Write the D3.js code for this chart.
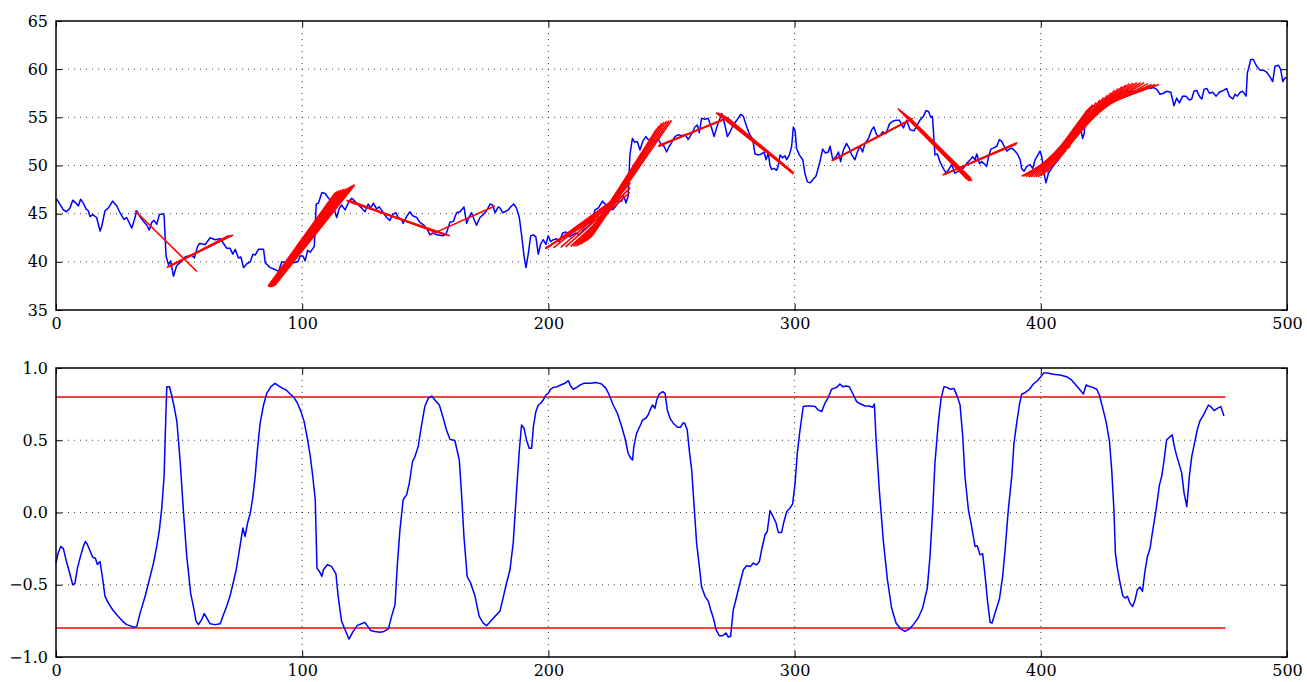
<!DOCTYPE html>
<html>
<head>
<meta charset="utf-8">
<script src="https://d3js.org/d3.v7.min.js"></script>
<style>
  body { margin: 0; background: #fff; }
  svg text { font-family: "DejaVu Serif", serif; font-size: 16px; fill: #000; }
</style>
</head>
<body>
<div id="chart"></div>
<script>

// price series (index, value)
var priceSeries = [
  [0,46.4],[0.3,46.5],[3,45.4],[4.3,45.2],[5.7,45.6],[6.8,46.4],[8.1,46.1],[9.1,45.8],[10,46.5],[11.1,46.1],[12.2,45.5],[13.1,45.3],[13.8,44.7],[14.9,44.9],[16.5,44.6],[17.9,43.2],[18.6,43.7],[19.9,45.3],[21.3,45.6],[23,46.3],[24.7,45.8],[26,45.1],[27.6,44.4],[28.7,44.6],[30.8,43.5],[32.1,44.6],[32.8,45.3],[34.1,44.7],[35.5,44.2],[36.9,43.8],[37.9,43.3],[38.9,44.1],[39.8,44.3],[40.9,43.9],[42,44.9],[43.4,45.0],[43.9,44.8],[44.7,40.6],[45.7,39.7],[46.6,40.1],[47.7,38.5],[49,39.6],[51.1,40.1],[52.4,40.5],[53.8,40.6],[55.1,40.7],[56.2,40.4],[57.5,41.6],[58.3,41.9],[60.6,41.8],[62.6,42.5],[64.6,42.3],[66.7,42.4],[68.3,41.8],[69.4,41.4],[70.7,41.4],[71.8,40.8],[72.8,41.3],[74.1,40.4],[75.1,40.5],[76.2,39.4],[77.5,39.8],[78.9,40.0],[80,40.8],[80.9,40.7],[82.2,41.3],[84.3,41.3],[85,39.9],[87,39.4],[89,39.2],[90.4,39.0],[91.7,40.0],[93.8,39.9],[95.1,40.1],[96.5,39.9],[98.2,40.0],[99.2,40.6],[100.3,40.6],[101.2,40.1],[102.2,41.2],[103.3,41.0],[104.9,41.6],[105.7,46.0],[106.6,46.1],[108,47.2],[109.3,47.1],
  [111.3,46.4],[112.6,45.8],[114,44.6],[115,45.5],[116,45.9],[117.4,45.4],[118.7,46.1],[120.1,46.6],[121.4,46.3],[122.8,45.9],[124.1,45.6],[125.5,45.2],[126.8,46.0],[127.8,45.6],[128.9,46.1],[130.2,45.5],[131.3,45.7],[132.7,45.2],[134.3,44.6],[135.6,44.3],[136.7,44.9],[138.1,45.1],[139,44.6],[140.4,44.4],[141,44.0],[142.4,44.7],[143.8,45.2],[144.8,44.8],[146.5,44.6],[147.8,44.1],[149.4,43.8],[150.8,43.4],[151.9,42.8],[153,43.0],[154.6,42.8],[157.3,42.7],[158.6,43.0],[160,44.1],[161.4,44.2],[162.7,45.1],[164.1,45.2],[165.7,45.7],[166.8,44.0],[167.9,44.7],[168.8,45.1],[169.8,44.4],[170.8,43.8],[172.2,44.6],[173.5,44.9],[174.9,45.3],[176.3,46.0],[177.3,45.9],[178.4,45.1],[179.6,45.7],[180.3,45.6],[181.4,45.1],[182.3,45.2],[183.7,45.4],[185,45.8],[185.9,46.0],[187,45.6],[188.2,44.6],[189.1,42.8],[190.1,40.6],[190.9,39.4],[191.8,40.8],[192.8,42.7],[193.9,42.8],[194.9,42.6],[195.9,40.8],[196.8,41.8],[197.9,42.3],[199,41.8],[199.9,42.7],[200.9,42.1],[202,42.3],[203.3,42.4],[204.4,42.1],[205.8,43.0],[207.1,43.1],[208.5,42.6],[209.8,42.8],[211.2,43.0],[212.5,42.8],[214.2,43.3],[216.2,43.7],[217.5,44.0],[218.9,45.4],[220.3,45.6],[222,46.3],[223.4,45.9],[224.7,45.6],[226.1,45.4],[227.4,45.8],[228.8,46.3],[229.7,46.3],[230.7,46.8],[231.5,46.1],[232.4,46.8],[233.1,51.1],[234.1,52.8],[235.1,52.4],[236.1,52.5],[237.2,51.6],[238.3,52.5],[239.6,53.0],[240.5,52.7],
  [241.3,52.7],[243.3,52.5],[244.6,52.7],[246,52.1],[247,52.0],[248,51.4],[249.1,52.0],[250.1,52.4],[250.7,52.7],[251.4,53.0],[252.8,53.2],[254.1,53.1],[255.5,53.2],[256.8,52.7],[258.2,53.3],[259.5,54.0],[260.5,54.2],[261.3,53.4],[262.2,54.9],[263.6,54.8],[264.9,54.9],[266.3,53.9],[267.3,53.0],[268.3,53.9],[269.4,54.7],[270.4,55.4],[271.7,54.2],[272.7,53.0],[273.8,53.5],[275.1,54.2],[276.5,54.7],[278.1,55.3],[279.2,55.1],[280.3,54.2],[281.6,53.3],[283,52.7],[283.9,51.2],[285.3,51.1],[286.6,51.2],[287.6,51.4],[288.4,50.6],[289.3,51.3],[290,50.0],[290.7,49.6],[291.6,49.7],[292.7,49.5],[293.4,50.0],[294.1,51.1],[295.1,50.8],[296.1,51.0],[296.8,50.6],[297.9,51.1],[298.8,52.0],[299.5,54.0],[300.2,53.6],[300.8,51.8],[301.9,51.1],[303.3,50.6],[304.2,49.2],[305.2,48.3],[306.3,48.2],[307.3,48.5],[308.7,48.9],[310.1,50.2],[311.4,51.7],[312.5,51.3],[313.7,51.4],[314.4,52.0],[315.5,50.6],[316.8,50.9],[317.8,51.4],[318.7,50.4],[319.8,51.6],[321.1,52.3],[322.2,51.8],[323.2,51.1],[324.5,50.6],[325.5,51.4],[326.6,52.0],[327.6,51.4],[328.6,52.3],[330,52.8],[331.3,53.7],[332.2,54.0],[333.3,53.2],[334.4,53.0],[335.8,53.5],[337.1,53.3],[338.5,54.3],[339.8,54.6],[341.2,54.7],[342.5,54.7],[344.2,53.9],[345.5,54.7],[346.9,53.7],[348.5,53.6],[349.8,54.2],[350.9,54.7],[352.3,55.1],[353.4,55.7],[354.4,55.6],[355.3,55.0],[356,55.1],[357,51.1],[358,51.2],[359,50.4],[360.4,49.7],[361.5,49.2],[362.4,49.5],[363.8,50.1],[365.1,49.2],[366.5,49.4],
  [367.8,49.8],[368.5,49.7],[369.9,50.2],[371.3,50.6],[372.3,50.9],[373.3,50.6],[374,51.2],[375.1,50.2],[376,50.4],[376.9,50.2],[378,49.9],[378.7,50.8],[379.7,51.7],[380.7,51.8],[382.1,52.0],[383.2,52.7],[384.1,52.5],[385.1,52.0],[386.2,51.5],[387.2,51.7],[388.2,51.8],[389.5,51.5],[390.5,51.2],[391.6,50.6],[392.2,49.7],[393.2,49.4],[394.3,49.9],[395.6,50.1],[396.7,49.7],[397.7,50.6],[398.6,51.0],[399.7,51.5],[400.4,50.9],[401.3,49.2],[402.1,48.2],[403.1,49.2],[404.4,49.7],[405.8,50.2],[407.1,50.6],[408.5,51.1],[409.4,51.3],[410.5,52.0],[411.9,52.8],[413.2,53.3],[414.6,53.9],[415.9,54.2],[417,52.8],[417.6,53.3],[418.4,55.4],[419.7,55.7],[421.1,56.2],[422.4,56.1],[423.8,56.2],[425.2,56.3],[426.5,56.8],[427.5,56.5],[428.8,57.0],[430.2,57.2],[431.9,57.5],[433.5,57.6],[434.9,57.8],[436.3,57.6],[437.6,57.7],[438.9,57.6],[440.3,57.9],[441.7,58.0],[443,58.1],[444.4,58.0],[445.7,58.1],[447.1,57.9],[448.4,57.4],[449.8,57.5],[451.1,57.7],[452.8,57.6],[454.1,56.2],[455.2,57.0],[456.3,56.5],[457.6,57.2],[459,57.2],[460.3,56.8],[461.3,56.9],[462.2,57.7],[463.3,57.8],[464.4,57.2],[465.4,56.9],[466.3,57.9],[467.4,58.0],[468.5,57.5],[469.8,57.6],[471.2,57.2],[472.5,57.6],[474.2,57.8],[475.5,58.0],[476.6,57.2],[478,56.9],[478.9,57.4],[479.8,57.2],[481,57.6],[482,57.7],[483.4,57.2],[483.9,59.6],[485.3,61.0],[486.3,61.0],[487.7,60.3],[489,59.9],[490.4,59.9],[491.7,59.7],[493.1,59.2],[494.2,58.7],[495.1,60.3],[496.5,60.4],[497.4,60.0],[498.3,58.7],[499.2,59.1],[499.9,59.1]
];

// fitted trend lines: [x0, y0, x1, y1]
var trendSegments = [
  [32.1,45.3,57.2,39.0],
  [45,39.4,72,42.8],[45.2,39.45,71.5,42.75],[45.5,39.5,71,42.7],[45.7,39.5,70.5,42.7],[46,39.5,70,42.7],
  [86.2,37.5,113.5,47.2],[86.4,37.4,114.2,47.3],[86.6,37.4,115,47.4],[86.8,37.4,115.8,47.45],[87,37.4,116.5,47.5],[87.3,37.4,117.2,47.55],[87.5,37.4,118,47.6],[87.8,37.45,118.8,47.7],[88,37.5,119.5,47.8],[88.3,37.5,120.2,47.9],[88.5,37.5,121,48.0],[89,37.6,121.4,48.0],
  [118,46.4,160,42.7],[118.3,46.35,159,42.75],[118.5,46.3,158,42.8],[119,46.4,155,43.0],
  [151.9,42.8,178.3,45.8],
  [198.6,41.4,219,44.4],[198.7,41.4,220.5,44.8],[198.8,41.4,222,45.2],[199,41.4,223.5,45.7],[199.2,41.4,225,46.2],[202,41.45,226.5,46.4],[205,41.5,228,46.6],[207,41.55,230.5,46.9],[209,41.6,233,47.2],[210,41.6,233.2,47.7],[211,41.6,233.3,48.2],[212,41.7,234.5,49.0],[213,41.8,236,50.0],[213.5,41.9,238,50.9],[214,42.0,240,51.8],[214.5,42.05,242,52.8],[215,42.1,244,53.8],[215.5,42.2,245,54.1],[216,42.3,246,54.4],[216.5,42.4,247,54.5],[217,42.5,248,54.6],[217.5,42.65,249,54.65],[218,42.8,250,54.7],
  [244.6,52.0,271.7,54.8],[244.8,52.0,271,54.8],[245,52.1,270.5,54.7],
  [268,55.5,299.5,49.2],[268.7,55.45,299.2,49.25],[269.5,55.4,299,49.3],[270.2,55.3,299.3,49.2],[271,55.2,299.6,49.1],[271.7,55.1,299.3,49.25],[272.5,55.0,299,49.4],
  [315,50.5,346,54.6],[315.5,50.55,347,54.75],[316,50.6,348,54.9],
  [342,55.9,370,48.6],[342.7,55.75,370.5,48.5],[343.5,55.6,371,48.4],[344.2,55.45,371.5,48.4],[345,55.3,372,48.4],[345.7,55.15,371.7,48.55],[346.5,55.0,371.5,48.7],
  [360,49.0,390.5,52.4],[360.5,49.05,390.2,52.3],[361,49.1,390,52.2],
  [392.2,48.9,408,51.0],[392.6,48.9,410,51.5],[393,48.9,412,52.0],[394,48.85,413.5,52.8],[395,48.8,415,53.5],[396,48.8,416.5,54.2],[397,48.8,418,54.8],[398,48.8,418.5,55.3],[399,48.8,419,55.8],[400,48.9,420,56.05],[401,49.0,421,56.3],[402.5,49.3,422.5,56.55],[404,49.7,424,56.8],[405.5,50.1,425.5,57.05],[407,50.6,427,57.3],[408.5,51.1,428.5,57.55],[410,51.6,430,57.8],[411,52.0,431.5,58.0],[412,52.4,433,58.2],[413,52.8,434.5,58.35],[414,53.2,436,58.5],[415,53.6,437.5,58.55],[416,54.0,439,58.6],[417,54.4,440.5,58.6],[418,54.8,442,58.6],[419,55.15,443.5,58.5],[420,55.5,445,58.4],[421,55.75,446.5,58.4],[422,56.0,448,58.4]
];

// rolling correlation (index, value)
var corrSeries = [
  [0,-0.35],[0.9,-0.28],[1.9,-0.235],[3,-0.25],[4.1,-0.33],[5.4,-0.41],[6.8,-0.5],[7.7,-0.49],[8.7,-0.385],[10,-0.30],[11.1,-0.235],[11.9,-0.20],[12.7,-0.22],[13.8,-0.265],[14.9,-0.31],[16,-0.316],[16.8,-0.36],[17.9,-0.34],[19,-0.465],[19.9,-0.58],[21.3,-0.627],[23,-0.673],[25.3,-0.72],[27.1,-0.753],[28.7,-0.776],[30.8,-0.788],[31.7,-0.795],[32.8,-0.788],[34.1,-0.70],[36.2,-0.58],[37.9,-0.465],[39.6,-0.35],[40.9,-0.235],[42,-0.12],[43,0.04],[43.9,0.25],[44.6,0.66],[45,0.87],[46.1,0.87],[47,0.81],[48,0.73],[49.1,0.63],[50.4,0.36],[51.8,0.0],[53.1,-0.30],[54.7,-0.56],[55.8,-0.65],[56.9,-0.753],[57.9,-0.776],[59.2,-0.74],[60.2,-0.70],[61.2,-0.73],[62.6,-0.77],[64.6,-0.776],[66.7,-0.77],[68,-0.707],[69.4,-0.645],[70.7,-0.576],[71.8,-0.5],[73.2,-0.396],[74.5,-0.258],[75.9,-0.108],[76.8,-0.166],[77.8,-0.074],[78.9,-0.005],[79.9,0.10],[80.9,0.25],[81.8,0.433],[82.9,0.617],[84.3,0.744],[85.6,0.825],[87.3,0.871],[89,0.894],[90.4,0.876],[92.1,0.859],[93.5,0.848],[95.1,0.82],[96.5,0.80],[98.1,0.756],[99.5,0.698],[100.8,0.629],[102.2,0.502],[103.3,0.387],[104.3,0.249],[105.3,0.088],[106,-0.385],[107,-0.408],[108,-0.442],
  [108.6,-0.396],[110.2,-0.362],[111.9,-0.373],[113.7,-0.424],[114.6,-0.58],[116,-0.753],[117.4,-0.811],[119,-0.876],[120.7,-0.823],[122.4,-0.781],[124.1,-0.77],[125.5,-0.76],[126.4,-0.783],[127.8,-0.816],[129.5,-0.823],[131.6,-0.829],[133.2,-0.823],[135,-0.806],[136.3,-0.719],[137.7,-0.638],[138.6,-0.373],[139.7,-0.12],[141,0.088],[142.4,0.122],[143.5,0.203],[144.8,0.353],[145.8,0.387],[147.1,0.456],[148.5,0.606],[149.8,0.733],[151.2,0.79],[152.6,0.806],[153.9,0.779],[155.7,0.744],[157.3,0.652],[158.6,0.571],[160,0.507],[162,0.498],[163.8,0.364],[164.7,0.134],[165.7,-0.166],[167,-0.442],[168.4,-0.488],[170.2,-0.58],[171.9,-0.719],[173.5,-0.765],[174.9,-0.783],[176.5,-0.753],[178.3,-0.719],[180.3,-0.684],[181.9,-0.569],[183,-0.488],[184.4,-0.396],[185.7,-0.212],[187.1,0.157],[188.2,0.433],[189.1,0.606],[190.1,0.583],[191.1,0.502],[192.2,0.445],[193.2,0.445],[193.9,0.594],[194.9,0.698],[195.9,0.744],[196.8,0.756],[197.9,0.779],[199,0.813],[199.9,0.825],[200.9,0.853],[202,0.866],[203.6,0.871],[205,0.882],[206.7,0.894],[208.1,0.912],[209,0.876],[210.1,0.853],[211.5,0.866],[212.8,0.882],[214.4,0.894],[216.9,0.894],[219.6,0.899],[221.6,0.889],[223.4,0.859],[224.7,0.813],[226.3,0.744],[228,0.687],[229.7,0.599],[231.1,0.514],[232.4,0.41],[233.4,0.376],[234.2,0.364],[234.7,0.456],[235.8,0.548],[237.2,0.599],[238.3,0.641],[239.6,0.652],[240.5,0.675],
  [241.3,0.71],[242.3,0.744],[243.3,0.721],[244,0.779],[245,0.82],[246.4,0.836],[247.4,0.825],[248.3,0.71],[249.4,0.652],[250.7,0.618],[252.4,0.59],[253.7,0.59],[254.8,0.622],[255.5,0.613],[256.4,0.571],[257.2,0.433],[258.2,0.295],[259.1,0.065],[260.2,-0.212],[261.3,-0.373],[262.2,-0.512],[263.6,-0.58],[265,-0.615],[265.9,-0.673],[267,-0.73],[268.1,-0.811],[269.4,-0.853],[270.8,-0.853],[272.1,-0.834],[273.1,-0.862],[274,-0.857],[275.1,-0.673],[276.5,-0.58],[277.8,-0.488],[279.2,-0.396],[280.5,-0.369],[282.1,-0.373],[283.2,-0.35],[284.6,-0.362],[285.7,-0.339],[286.6,-0.258],[288,-0.154],[288.9,-0.131],[290,0.014],[291.1,-0.023],[292.4,-0.069],[293.4,-0.138],[294.7,-0.138],[295.7,-0.062],[296.8,0.007],[298.1,0.03],[299.2,0.06],[300.2,0.203],[301.1,0.41],[302.2,0.571],[303.5,0.733],[304.9,0.737],[306.5,0.737],[308.3,0.733],[309.6,0.71],[311,0.698],[312.3,0.756],[313.7,0.797],[315,0.853],[317.1,0.866],[318.4,0.889],[319.5,0.871],[320.9,0.876],[322.2,0.871],[323.9,0.813],[325.2,0.767],[326.8,0.751],[328.6,0.737],[330.3,0.737],[331.7,0.728],[332.4,0.751],[333.1,0.502],[334.4,0.157],[336,-0.189],[337.7,-0.465],[339.4,-0.661],[341.2,-0.765],[343.1,-0.806],[344.8,-0.823],[346.6,-0.806],[348.2,-0.776],[350.2,-0.73],[352,-0.661],[353.9,-0.523],[355,-0.304],[356.1,0.018],[357,0.341],[358.4,0.629],[359.5,0.79],[360.7,0.871],[361.8,0.866],[363.4,0.853],[364.7,0.859],[366.1,0.802],
  [367.2,0.744],[368.3,0.525],[369.2,0.249],[370.6,0.018],[371.9,-0.097],[373.3,-0.235],[374.2,-0.23],[375.3,-0.293],[376.4,-0.286],[377.4,-0.442],[378.3,-0.604],[379.4,-0.76],[380.2,-0.765],[381.4,-0.696],[383.2,-0.599],[384.5,-0.442],[385.5,-0.258],[386.8,0.018],[388.2,0.249],[389.1,0.479],[390.2,0.618],[391.3,0.744],[392.2,0.818],[393.6,0.829],[395.4,0.853],[397,0.889],[398.6,0.912],[400,0.94],[401.3,0.968],[403.1,0.963],[405.1,0.956],[407.8,0.952],[410.5,0.94],[412.2,0.922],[413.9,0.889],[415.7,0.853],[417.3,0.82],[418.4,0.882],[419.3,0.876],[421.1,0.866],[422.7,0.853],[423.8,0.813],[425.2,0.721],[426.5,0.629],[427.9,0.491],[428.8,0.295],[429.7,0.018],[430.3,-0.281],[431.1,-0.385],[432.2,-0.488],[433.3,-0.576],[434.2,-0.592],[435.2,-0.58],[436.2,-0.627],[437.3,-0.65],[438.3,-0.604],[439.2,-0.535],[440.3,-0.516],[441.3,-0.546],[442.3,-0.408],[443.3,-0.304],[444.4,-0.247],[445.5,-0.12],[446.8,0.018],[448.2,0.191],[449.1,0.249],[450,0.353],[451.1,0.502],[452.2,0.521],[453.4,0.537],[454.1,0.468],[455.2,0.392],[457.2,0.276],[458.2,0.134],[459.3,0.041],[460.4,0.26],[461.3,0.387],[462.7,0.502],[463.6,0.576],[464.7,0.636],[466.1,0.675],[467.1,0.71],[468.1,0.744],[469,0.733],[470.4,0.705],[471.7,0.721],[473.1,0.733],[474.4,0.668]
];

// correlation thresholds, drawn across the correlation range
var thresholds = [0.8, -0.8];
var thresholdSpan = [0, 475];

var xTicks = [0, 100, 200, 300, 400, 500];
var priceTicks = [35, 40, 45, 50, 55, 60, 65];
var corrTicks = [-1.0, -0.5, 0.0, 0.5, 1.0];

var width = 1307, height = 682;
var left = 56, right = 1287;

var svg = d3.select("#chart").append("svg")
  .attr("width", width)
  .attr("height", height);

function panel(top, bottom, yDomain, yTicks, yFormat) {
  var x = d3.scaleLinear().domain([0, 500]).range([left, right]);
  var y = d3.scaleLinear().domain(yDomain).range([bottom, top]);
  var g = svg.append("g");

  // dotted grid
  g.append("g").selectAll("line")
    .data(xTicks.slice(1, -1))
    .enter().append("line")
    .attr("x1", function(d) { return x(d); })
    .attr("x2", function(d) { return x(d); })
    .attr("y1", top).attr("y2", bottom)
    .attr("stroke", "#000").attr("stroke-width", 1)
    .attr("stroke-dasharray", "1,5").attr("opacity", 0.75);
  g.append("g").selectAll("line")
    .data(yTicks.slice(1, -1))
    .enter().append("line")
    .attr("y1", function(d) { return y(d); })
    .attr("y2", function(d) { return y(d); })
    .attr("x1", left).attr("x2", right)
    .attr("stroke", "#000").attr("stroke-width", 1)
    .attr("stroke-dasharray", "1,5").attr("opacity", 0.75);

  // axes with inward ticks on every side
  var ax = g.append("g").attr("transform", "translate(0," + bottom + ")")
    .call(d3.axisBottom(x).tickValues(xTicks).tickSize(-6).tickPadding(8).tickFormat(d3.format("d")));
  var ay = g.append("g").attr("transform", "translate(" + left + ",0)")
    .call(d3.axisLeft(y).tickValues(yTicks).tickSize(-6).tickPadding(8).tickFormat(yFormat));
  var at = g.append("g").attr("transform", "translate(0," + top + ")")
    .call(d3.axisTop(x).tickValues(xTicks).tickSize(-6).tickFormat(""));
  var ar = g.append("g").attr("transform", "translate(" + right + ",0)")
    .call(d3.axisRight(y).tickValues(yTicks).tickSize(-6).tickFormat(""));
  [ax, ay, at, ar].forEach(function(a) {
    a.select(".domain").remove();
    a.selectAll(".tick line").attr("stroke", "#000").attr("stroke-width", 1);
    a.selectAll("text").attr("font-family", null).attr("font-size", null);
  });

  return { x: x, y: y, g: g, top: top, bottom: bottom };
}

function frame(p) {
  p.g.append("rect")
    .attr("x", left).attr("y", p.top)
    .attr("width", right - left).attr("height", p.bottom - p.top)
    .attr("fill", "none").attr("stroke", "#000").attr("stroke-width", 1.5);
}

// upper panel: price with trend lines
var pTop = panel(21, 310, [35, 65], priceTicks, d3.format("d"));

pTop.g.append("path")
  .datum(priceSeries)
  .attr("fill", "none")
  .attr("stroke", "#0000ff")
  .attr("stroke-width", 1.5)
  .attr("stroke-linejoin", "round")
  .attr("d", d3.line().x(function(d) { return pTop.x(d[0]); }).y(function(d) { return pTop.y(d[1]); }));

pTop.g.append("g").selectAll("line")
  .data(trendSegments)
  .enter().append("line")
  .attr("x1", function(d) { return pTop.x(d[0]); })
  .attr("y1", function(d) { return pTop.y(d[1]); })
  .attr("x2", function(d) { return pTop.x(d[2]); })
  .attr("y2", function(d) { return pTop.y(d[3]); })
  .attr("stroke", "#ff0000")
  .attr("stroke-width", 1.6);

frame(pTop);

// lower panel: rolling correlation with thresholds
var pBot = panel(368, 657, [-1, 1], corrTicks, d3.format(".1f"));

pBot.g.append("g").selectAll("line")
  .data(thresholds)
  .enter().append("line")
  .attr("x1", pBot.x(thresholdSpan[0]))
  .attr("x2", pBot.x(thresholdSpan[1]))
  .attr("y1", function(d) { return pBot.y(d); })
  .attr("y2", function(d) { return pBot.y(d); })
  .attr("stroke", "#ff0000")
  .attr("stroke-width", 1.5);

pBot.g.append("path")
  .datum(corrSeries)
  .attr("fill", "none")
  .attr("stroke", "#0000ff")
  .attr("stroke-width", 1.5)
  .attr("stroke-linejoin", "round")
  .attr("d", d3.line().x(function(d) { return pBot.x(d[0]); }).y(function(d) { return pBot.y(d[1]); }));

frame(pBot);

</script>
</body>
</html>
